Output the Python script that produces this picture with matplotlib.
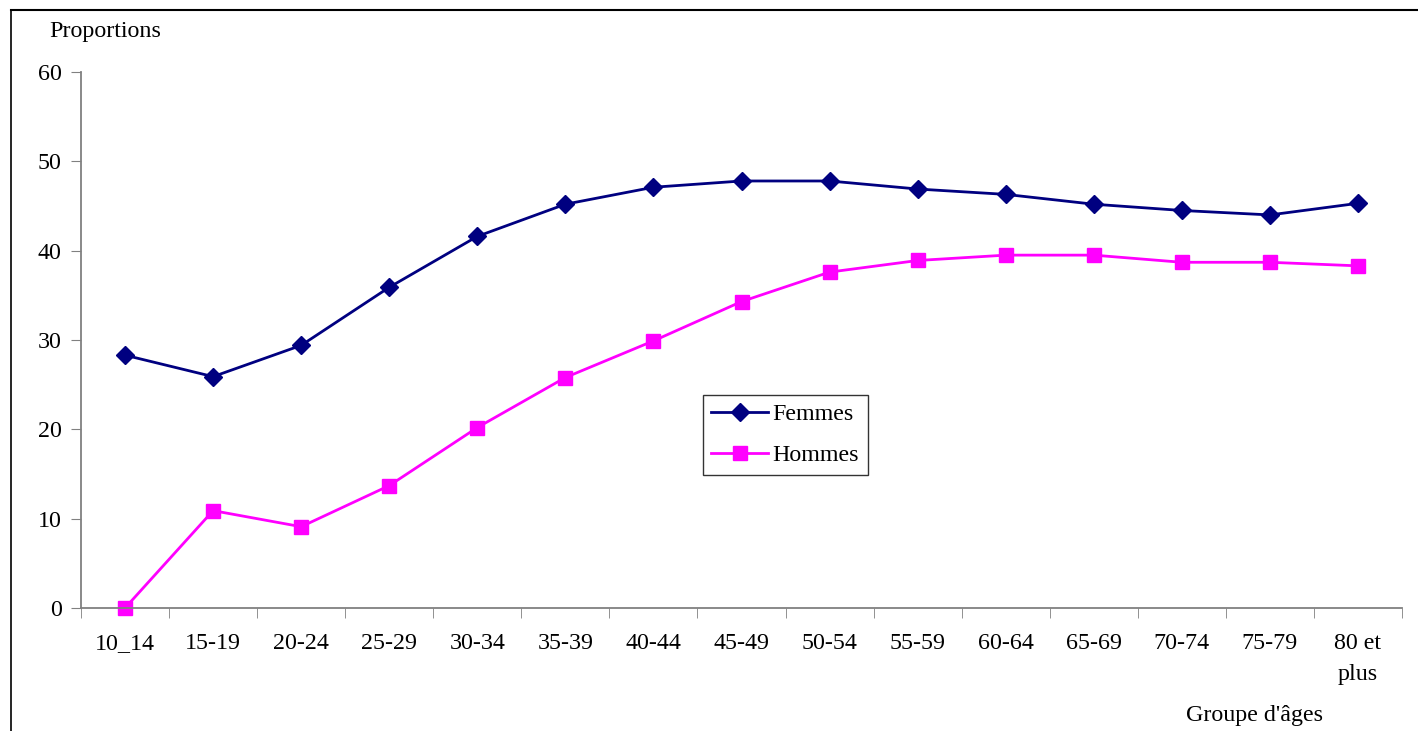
import matplotlib
matplotlib.use("Agg")
import matplotlib.pyplot as plt
from matplotlib.lines import Line2D

categories = ["10_14", "15-19", "20-24", "25-29", "30-34", "35-39", "40-44", "45-49",
              "50-54", "55-59", "60-64", "65-69", "70-74", "75-79", "80 et\nplus"]
femmes = [28.3, 25.9, 29.4, 35.9, 41.6, 45.2, 47.1, 47.8, 47.8, 46.9, 46.3, 45.2, 44.5, 44.0, 45.3]
hommes = [0.0, 10.9, 9.1, 13.7, 20.2, 25.8, 29.9, 34.3, 37.6, 38.9, 39.5, 39.5, 38.7, 38.7, 38.3]
yticks = [0, 10, 20, 30, 40, 50, 60]

plt.rcParams['font.family'] = ['Liberation Serif', 'DejaVu Serif']
FS = 17.3
W, H = 1418, 731
fig = plt.figure(figsize=(W / 100, H / 100), dpi=100)
ax = fig.add_axes([81 / W, 1 - 608 / H, (1402 - 81) / W, (608 - 72) / H])

x = list(range(len(categories)))
ax.plot(x, femmes, color="#000080", lw=2, marker="D", ms=9.5, label="Femmes", clip_on=False)
ax.plot(x, hommes, color="#FF00FF", lw=2, marker="s", ms=10, label="Hommes", clip_on=False)

ax.set_xlim(-0.5, len(categories) - 0.5)
ax.set_ylim(0, 60)
ax.set_yticks(yticks)
ax.set_yticklabels([str(v) for v in yticks], fontsize=FS)
ax.set_xticks(x)
ax.set_xticklabels(categories, fontsize=FS, linespacing=1.65)
ax.set_xticks([i + 0.5 for i in range(-1, len(categories))], minor=True)
ax.tick_params(axis="x", which="major", length=0, pad=18)
ax.tick_params(axis="x", which="minor", length=7, color="#808080", direction="out")
ax.tick_params(axis="y", length=7, color="#808080", direction="out", pad=7)
for s in ["top", "right"]:
    ax.spines[s].set_visible(False)
for s in ["left", "bottom"]:
    ax.spines[s].set_color("#808080")
    ax.spines[s].set_linewidth(1.3)

leg = fig.legend(loc="upper left", bbox_to_anchor=(703 / W, 1 - 395 / H), fontsize=FS,
                 frameon=True, fancybox=False, edgecolor="black", handlelength=2.35,
                 borderpad=0.35, labelspacing=0.8, handletextpad=0.2, borderaxespad=0)
leg.get_frame().set_linewidth(1.0)

fig.text(105 / W, 1 - 32 / H, "Proportions", fontsize=FS, ha="center", va="center")
fig.text(1255 / W, 1 - 716 / H, "Groupe d'âges", fontsize=FS, ha="center", va="center")

fig.add_artist(Line2D([11 / W, 11 / W], [0, 1 - 10 / H], transform=fig.transFigure, color="black", lw=1.2))
fig.add_artist(Line2D([11 / W, 1], [1 - 10 / H, 1 - 10 / H], transform=fig.transFigure, color="black", lw=1.5))

fig.savefig("out.png", dpi=100)
